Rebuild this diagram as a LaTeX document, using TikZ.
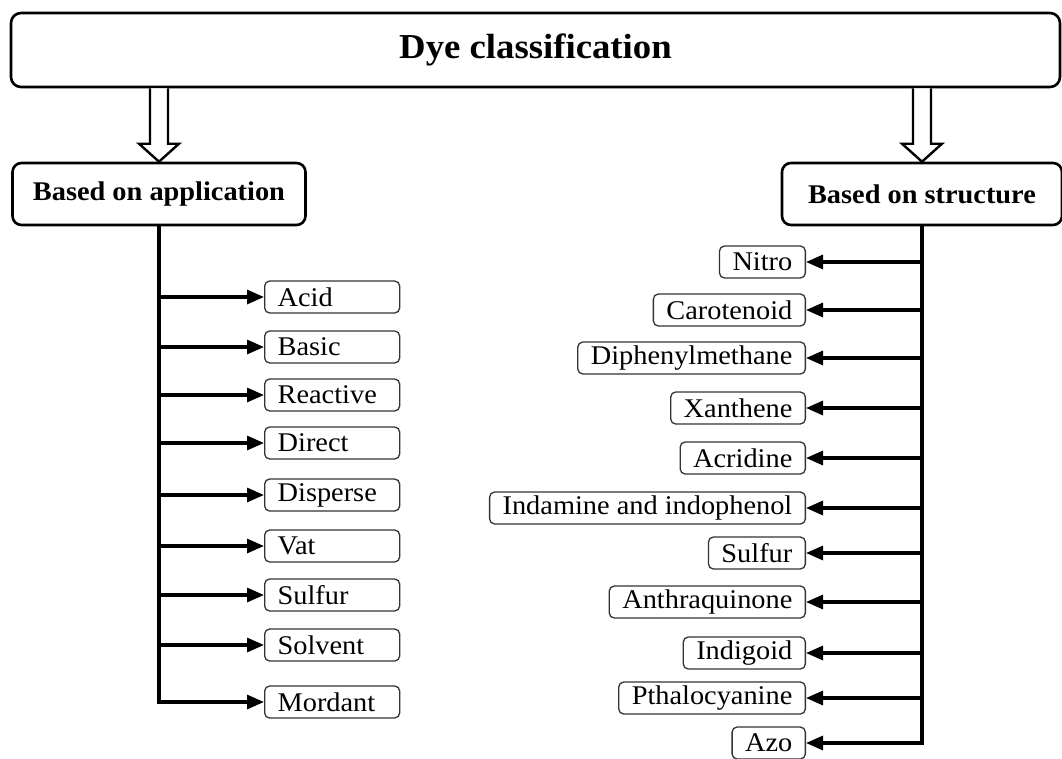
\documentclass[tikz,border=0pt]{standalone}
\usepackage{fontspec}
\setmainfont{Liberation Serif}[FakeStretch=1.05]
\usepackage{tikz}
\usetikzlibrary{arrows.meta,calc,positioning}

\begin{document}
\begin{tikzpicture}[x=1pt, y=-1pt, line width=2.6pt,
  titolo/.style={draw, rounded corners=10pt, minimum width=1049pt, minimum height=74pt,
    font=\fontsize{35}{40}\selectfont\bfseries},
  blocco/.style={draw, rounded corners=9pt, minimum height=62pt,
    font=\fontsize{27}{30}\selectfont\bfseries},
  tipo/.style={draw, line width=1.3pt, black!80, text=black, rounded corners=5pt,
    minimum height=32pt, inner ysep=1pt, inner xsep=13pt, font=\fontsize{27}{30}\selectfont},
  tiposx/.style={tipo, anchor=west, text width=109pt, align=left},
  tipodx/.style={tipo, anchor=east},
  ramo/.style={line width=3.1pt, -{Triangle[length=17pt,width=14pt]}},
  tronco/.style={line width=3.1pt, line cap=rect},
  vuota/.style={draw, line width=2.4pt, fill=white, line join=miter}]
\useasboundingbox (0,0) rectangle (1062,758);

\node[titolo] (dye) at (535.5,50) {Dye classification};
\node[blocco, minimum width=293pt] (app) at (159,194) {Based on application};
\node[blocco, minimum width=280pt] (struct) at (922,194) {Based on structure};

% frecce vuote dal titolo alle due classificazioni
\foreach \b in {app,struct}
  \draw[vuota] ($(\b.north |- dye.south)+(-9,0)$) -- ($(\b.north)+(-9,-18)$) -- ++(-11,0)
    -- (\b.north) -- ++(20,-18) -- ++(-11,0) -- ($(\b.north |- dye.south)+(9,0)$);

% per applicazione
\foreach \nm/\lbl/\yy in {acid/Acid/297, basic/Basic/347, reac/Reactive/395, direct/Direct/443,
    disp/Disperse/495, vat/Vat/546, sulfa/Sulfur/595, solv/Solvent/645, mord/Mordant/702}{
  \node[tiposx] (\nm) at (264,\yy) {\lbl};
  \draw[ramo] (app.south |- \nm.west) -- (\nm.west);
}
\draw[tronco] (app.south) -- (app.south |- mord.west);

% per struttura
\foreach \nm/\lbl/\yy in {nitro/Nitro/262, caro/Carotenoid/310, diph/Diphenylmethane/358,
    xan/Xanthene/408, acri/Acridine/458, inda/Indamine and indophenol/508, sulfs/Sulfur/553,
    anth/Anthraquinone/602, indi/Indigoid/653, pthal/Pthalocyanine/698, azo/Azo/743}{
  \node[tipodx] (\nm) at (806,\yy) {\lbl};
  \draw[ramo] (struct.south |- \nm.east) -- (\nm.east);
}
\draw[tronco] (struct.south) -- (struct.south |- azo.east);
\end{tikzpicture}
\end{document}
